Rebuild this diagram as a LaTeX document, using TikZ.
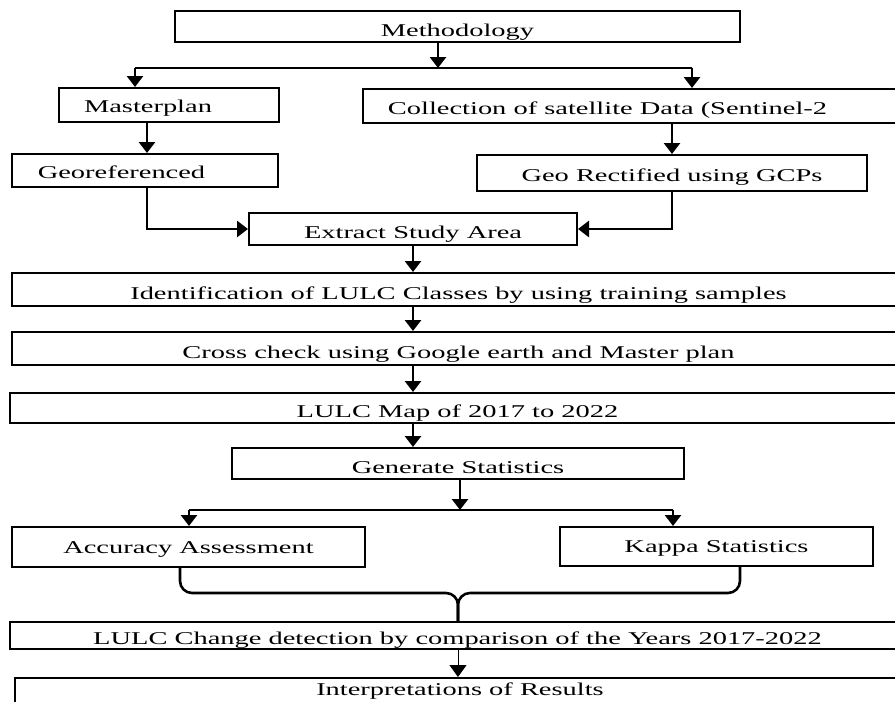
\documentclass[tikz,border=0pt]{standalone}
\usepackage{fontspec}
\setmainfont{Liberation Serif}
\usetikzlibrary{arrows.meta}
\newcommand{\stretchtxt}[2][-5.5pt]{\raisebox{#1}{\scalebox{1.58}[1]{#2}}}
\begin{document}
\begin{tikzpicture}[x=1pt,y=-1pt,
  boxnode/.style={draw,line width=2pt,inner sep=0pt,text height=12pt,text depth=4pt,font=\fontsize{18}{20}\selectfont},
  conn/.style={line width=2.6pt},
  arr/.style={line width=2.8pt,-{Triangle[width=16pt,length=11pt]}},
  thinarr/.style={line width=1pt,-{Triangle[width=17pt,length=12pt]}}]
\clip (0,0) rectangle (895,702);
\fill[white] (0,0) rectangle (895,702);
% boxes
\node[boxnode,minimum width=565pt,minimum height=31pt] (meth) at (457.5,26.5) {\stretchtxt{Methodology}};
\node[boxnode,minimum width=220pt,minimum height=34pt] (master) at (169,105) {\stretchtxt[-3.5pt]{Masterplan}\hspace*{42pt}};
\node[boxnode,minimum width=542pt,minimum height=34pt] (coll) at (634,106) {\stretchtxt[-4pt]{Collection of satellite Data (Sentinel-2}\hspace*{53pt}};
\node[boxnode,minimum width=266pt,minimum height=33pt] (geo) at (145,170.5) {\stretchtxt[-4pt]{Georeferenced}\hspace*{47pt}};
\node[boxnode,minimum width=390pt,minimum height=36pt] (rect) at (672,173) {\stretchtxt[-4pt]{Geo Rectified using GCPs}};
\node[boxnode,minimum width=328pt,minimum height=32pt] (extract) at (413,229) {\stretchtxt{Extract Study Area}};
\node[boxnode,minimum width=893pt,minimum height=33pt] (ident) at (458.5,289.5) {\stretchtxt{Identification of LULC Classes by using training samples}};
\node[boxnode,minimum width=893pt,minimum height=33pt] (cross) at (458.5,348.5) {\stretchtxt{Cross check using Google earth and Master plan}};
\node[boxnode,minimum width=895pt,minimum height=30pt] (map) at (457.5,408) {\stretchtxt{LULC Map of 2017 to 2022}};
\node[boxnode,minimum width=452pt,minimum height=31pt] (gen) at (458,463.5) {\stretchtxt{Generate Statistics}};
\node[boxnode,minimum width=353pt,minimum height=40pt] (acc) at (188.5,547) {\stretchtxt[-2pt]{Accuracy Assessment}};
\node[boxnode,minimum width=313pt,minimum height=39pt] (kappa) at (716.5,546.5) {\stretchtxt[-2pt]{Kappa Statistics}};
\node[boxnode,minimum width=895pt,minimum height=27pt] (change) at (457.5,635.5) {\stretchtxt[-5pt]{LULC Change detection by comparison of the Years 2017-2022}};
\node[boxnode,minimum width=890pt,minimum height=42pt] (interp) at (460,699) {\stretchtxt[8pt]{Interpretations of Results}};
% junction coordinates
\coordinate (j1) at (438,68);
\coordinate (jL) at (135,68);
\coordinate (jR) at (692,68);
\coordinate (a2) at (147,0);
\coordinate (j2) at (460,510);
\coordinate (kL) at (189,510);
\coordinate (kR) at (673,510);
\coordinate (bL) at (180,0);
\coordinate (bR) at (740,0);
\coordinate (bm) at (458,593);
% connectors
\draw[arr] (meth.south -| j1) -- (j1);
\draw[line width=2pt] (jL) -- (jR);
\draw[arr] (jL) -- (jL |- master.north);
\draw[arr] (jR) -- (jR |- coll.north);
\draw[arr] (master.south -| a2) -- (geo.north -| a2);
\draw[arr] (coll.south -| rect.north) -- (rect.north);
\draw[arr] (geo.south -| a2) |- (extract.west);
\draw[arr] (rect.south) |- (extract.east);
\draw[arr] (extract.south) -- (ident.north -| extract.south);
\draw[arr] (ident.south -| extract.south) -- (cross.north -| extract.south);
\draw[arr] (cross.south -| extract.south) -- (map.north -| extract.south);
\draw[arr] (map.south -| extract.south) -- (gen.north -| extract.south);
\draw[arr] (gen.south -| j2) -- (j2);
\draw[line width=2pt] (kL) -- (kR);
\draw[arr] (kL) -- (kL |- acc.north);
\draw[arr] (kR) -- (kR |- kappa.north);
\draw[conn,rounded corners=12pt] (acc.south -| bL) |- (bm) -- (change.north -| bm);
\draw[conn,rounded corners=12pt] (kappa.south -| bR) |- (bm) -- (change.north -| bm);
\draw[thinarr] (change.south -| bm) -- (interp.north -| bm);
\end{tikzpicture}
\end{document}
